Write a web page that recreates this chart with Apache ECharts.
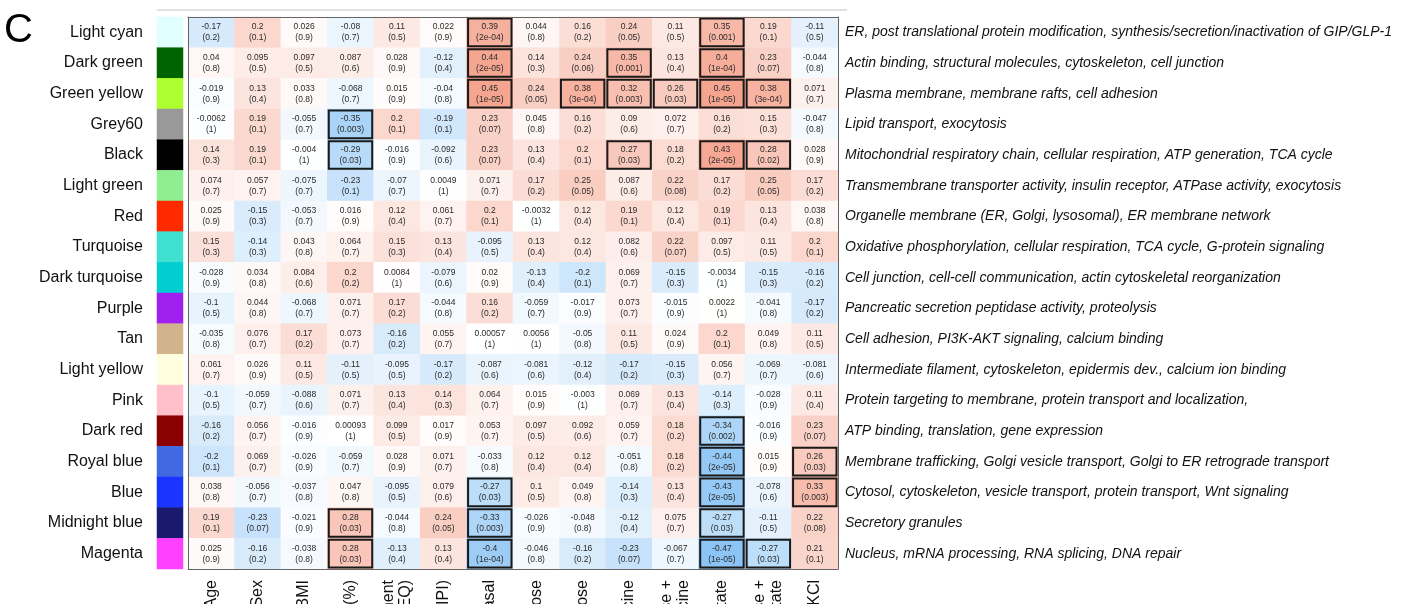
<!DOCTYPE html>
<html>
<head>
<meta charset="utf-8">
<script src="https://cdn.jsdelivr.net/npm/echarts@6/dist/echarts.min.js"></script>
<style>
  html, body { margin: 0; padding: 0; background: #fff; }
  #chart { width: 1411px; height: 604px; }
</style>
</head>
<body>
<div id="chart"></div>
<script>
// Co-expression modules (rows, top to bottom)
const modules = [
  'Light cyan', 'Dark green', 'Green yellow', 'Grey60', 'Black', 'Light green',
  'Red', 'Turquoise', 'Dark turquoise', 'Purple', 'Tan', 'Light yellow',
  'Pink', 'Dark red', 'Royal blue', 'Blue', 'Midnight blue', 'Magenta'
];

// Module colour swatches
const moduleColors = [
  '#e0ffff', '#006400', '#adff2f', '#999999', '#000000', '#90ee90',
  '#ff2a00', '#40e0d0', '#00ced1', '#a020f0', '#d2b48c', '#ffffe0',
  '#ffc0cb', '#8b0000', '#4169e1', '#1a35ff', '#191970', '#ff40ff'
];

// Functional enrichment of each module
const annotations = [
  'ER, post translational protein modification, synthesis/secretion/inactivation of GIP/GLP-1',
  'Actin binding, structural molecules, cytoskeleton, cell junction',
  'Plasma membrane, membrane rafts, cell adhesion',
  'Lipid transport, exocytosis',
  'Mitochondrial respiratory chain, cellular respiration, ATP generation, TCA cycle',
  'Transmembrane transporter activity, insulin receptor, ATPase activity, exocytosis',
  'Organelle membrane (ER, Golgi, lysosomal), ER membrane network',
  'Oxidative phosphorylation, cellular respiration, TCA cycle, G-protein signaling',
  'Cell junction, cell-cell communication, actin cytoskeletal reorganization',
  'Pancreatic secretion peptidase activity, proteolysis',
  'Cell adhesion, PI3K-AKT signaling, calcium binding',
  'Intermediate filament, cytoskeleton, epidermis dev., calcium ion binding',
  'Protein targeting to membrane, protein transport and localization,',
  'ATP binding, translation, gene expression',
  'Membrane trafficking, Golgi vesicle transport, Golgi to ER retrograde transport',
  'Cytosol, cytoskeleton, vesicle transport, protein transport, Wnt signaling',
  'Secretory granules',
  'Nucleus, mRNA processing, RNA splicing, DNA repair'
];

// Donor traits and secretion conditions (columns)
const traits = [
  'Age', 'Sex', 'BMI', 'HbA1c (%)', 'Insulin treatment\n(IU/kg EQ)', 'Islet purity (IPI)',
  'Basal', 'Low glucose', 'High glucose', 'Leucine', 'Glucose +\nLeucine',
  'Palmitate', 'Glucose +\nPalmitate', 'KCl'
];

// Correlation coefficients, one row per module
const corr = [
  [-0.17, 0.2, 0.026, -0.08, 0.11, 0.022, 0.39, 0.044, 0.16, 0.24, 0.11, 0.35, 0.19, -0.11],
  [0.04, 0.095, 0.097, 0.087, 0.028, -0.12, 0.44, 0.14, 0.24, 0.35, 0.13, 0.4, 0.23, -0.044],
  [-0.019, 0.13, 0.033, -0.068, 0.015, -0.04, 0.45, 0.24, 0.38, 0.32, 0.26, 0.45, 0.38, 0.071],
  [-0.0062, 0.19, -0.055, -0.35, 0.2, -0.19, 0.23, 0.045, 0.16, 0.09, 0.072, 0.16, 0.15, -0.047],
  [0.14, 0.19, -0.004, -0.29, -0.016, -0.092, 0.23, 0.13, 0.2, 0.27, 0.18, 0.43, 0.28, 0.028],
  [0.074, 0.057, -0.075, -0.23, -0.07, 0.0049, 0.071, 0.17, 0.25, 0.087, 0.22, 0.17, 0.25, 0.17],
  [0.025, -0.15, -0.053, 0.016, 0.12, 0.061, 0.2, -0.0032, 0.12, 0.19, 0.12, 0.19, 0.13, 0.038],
  [0.15, -0.14, 0.043, 0.064, 0.15, 0.13, -0.095, 0.13, 0.12, 0.082, 0.22, 0.097, 0.11, 0.2],
  [-0.028, 0.034, 0.084, 0.2, 0.0084, -0.079, 0.02, -0.13, -0.2, 0.069, -0.15, -0.0034, -0.15, -0.16],
  [-0.1, 0.044, -0.068, 0.071, 0.17, -0.044, 0.16, -0.059, -0.017, 0.073, -0.015, 0.0022, -0.041, -0.17],
  [-0.035, 0.076, 0.17, 0.073, -0.16, 0.055, 0.00057, 0.0056, -0.05, 0.11, 0.024, 0.2, 0.049, 0.11],
  [0.061, 0.026, 0.11, -0.11, -0.095, -0.17, -0.087, -0.081, -0.12, -0.17, -0.15, 0.056, -0.069, -0.081],
  [-0.1, -0.059, -0.088, 0.071, 0.13, 0.14, 0.064, 0.015, -0.003, 0.069, 0.13, -0.14, -0.028, 0.11],
  [-0.16, 0.056, -0.016, 0.00093, 0.099, 0.017, 0.053, 0.097, 0.092, 0.059, 0.18, -0.34, -0.016, 0.23],
  [-0.2, 0.069, -0.026, -0.059, 0.028, 0.071, -0.033, 0.12, 0.12, -0.051, 0.18, -0.44, 0.015, 0.26],
  [0.038, -0.056, -0.037, 0.047, -0.095, 0.079, -0.27, 0.1, 0.049, -0.14, 0.13, -0.43, -0.078, 0.33],
  [0.19, -0.23, -0.021, 0.28, -0.044, 0.24, -0.33, -0.026, -0.048, -0.12, 0.075, -0.27, -0.11, 0.22],
  [0.025, -0.16, -0.038, 0.28, -0.13, 0.13, -0.4, -0.046, -0.16, -0.23, -0.067, -0.47, -0.27, 0.21]
];

// P-values, as printed under each coefficient
const pvals = [
  ['0.2', '0.1', '0.9', '0.7', '0.5', '0.9', '2e-04', '0.8', '0.2', '0.05', '0.5', '0.001', '0.1', '0.5'],
  ['0.8', '0.5', '0.5', '0.6', '0.9', '0.4', '2e-05', '0.3', '0.06', '0.001', '0.4', '1e-04', '0.07', '0.8'],
  ['0.9', '0.4', '0.8', '0.7', '0.9', '0.8', '1e-05', '0.05', '3e-04', '0.003', '0.03', '1e-05', '3e-04', '0.7'],
  ['1', '0.1', '0.7', '0.003', '0.1', '0.1', '0.07', '0.8', '0.2', '0.6', '0.7', '0.2', '0.3', '0.8'],
  ['0.3', '0.1', '1', '0.03', '0.9', '0.6', '0.07', '0.4', '0.1', '0.03', '0.2', '2e-05', '0.02', '0.9'],
  ['0.7', '0.7', '0.7', '0.1', '0.7', '1', '0.7', '0.2', '0.05', '0.6', '0.08', '0.2', '0.05', '0.2'],
  ['0.9', '0.3', '0.7', '0.9', '0.4', '0.7', '0.1', '1', '0.4', '0.1', '0.4', '0.1', '0.4', '0.8'],
  ['0.3', '0.3', '0.8', '0.7', '0.3', '0.4', '0.5', '0.4', '0.4', '0.6', '0.07', '0.5', '0.5', '0.1'],
  ['0.9', '0.8', '0.6', '0.2', '1', '0.6', '0.9', '0.4', '0.1', '0.7', '0.3', '1', '0.3', '0.2'],
  ['0.5', '0.8', '0.7', '0.7', '0.2', '0.8', '0.2', '0.7', '0.9', '0.7', '0.9', '1', '0.8', '0.2'],
  ['0.8', '0.7', '0.2', '0.7', '0.2', '0.7', '1', '1', '0.8', '0.5', '0.9', '0.1', '0.8', '0.5'],
  ['0.7', '0.9', '0.5', '0.5', '0.5', '0.2', '0.6', '0.6', '0.4', '0.2', '0.3', '0.7', '0.7', '0.6'],
  ['0.5', '0.7', '0.6', '0.7', '0.4', '0.3', '0.7', '0.9', '1', '0.7', '0.4', '0.3', '0.9', '0.4'],
  ['0.2', '0.7', '0.9', '1', '0.5', '0.9', '0.7', '0.5', '0.6', '0.7', '0.2', '0.002', '0.9', '0.07'],
  ['0.1', '0.7', '0.9', '0.7', '0.9', '0.7', '0.8', '0.4', '0.4', '0.8', '0.2', '2e-05', '0.9', '0.03'],
  ['0.8', '0.7', '0.8', '0.8', '0.5', '0.6', '0.03', '0.5', '0.8', '0.3', '0.4', '2e-05', '0.6', '0.003'],
  ['0.1', '0.07', '0.9', '0.03', '0.8', '0.05', '0.003', '0.9', '0.8', '0.4', '0.7', '0.03', '0.5', '0.08'],
  ['0.9', '0.2', '0.8', '0.03', '0.4', '0.4', '1e-04', '0.8', '0.2', '0.07', '0.7', '1e-05', '0.03', '0.1']
];

const FONT = '"Liberation Sans", Arial, Helvetica, sans-serif';

// Heatmap cells: [column, row, r]
const cells = [];
const significant = [];
corr.forEach((row, r) => {
  row.forEach((v, c) => {
    cells.push([c, r, v]);
    if (parseFloat(pvals[r][c]) < 0.05) significant.push([c, r]);
  });
});

const swatches = moduleColors.map((col, i) => ({ value: [0, i, i], itemStyle: { color: col } }));

const chart = echarts.init(document.getElementById('chart'), null, { renderer: 'canvas' });

chart.setOption({
  animation: false,
  backgroundColor: '#ffffff',
  textStyle: { fontFamily: FONT },
  graphic: [
    { type: 'text', left: 4, top: 11, style: { text: 'C', font: '40px ' + FONT, fill: '#000' } },
    { type: 'line', shape: { x1: 157, y1: 10, x2: 847, y2: 10 }, style: { stroke: '#c4c4c4', lineWidth: 1 } }
  ],
  grid: [
    { left: 188, top: 17, width: 650, height: 552, outerBoundsMode: 'none', containLabel: false },
    { left: 157, top: 17, width: 26, height: 552, outerBoundsMode: 'none', containLabel: false }
  ],
  xAxis: [
    {
      type: 'category', gridIndex: 0, data: traits, position: 'bottom', z: 5,
      axisLine: { show: true, lineStyle: { color: '#666', width: 1 } },
      axisTick: { show: false }, splitLine: { show: false },
      axisLabel: { rotate: 90, fontSize: 16, color: '#111', margin: 11, lineHeight: 17, interval: 0, fontFamily: FONT }
    },
    {
      type: 'category', gridIndex: 0, data: traits, position: 'top', z: 5,
      axisLine: { show: true, lineStyle: { color: '#666', width: 1 } },
      axisTick: { show: false }, axisLabel: { show: false }
    },
    {
      type: 'category', gridIndex: 1, data: ['module'],
      axisLine: { show: false }, axisTick: { show: false }, axisLabel: { show: false }
    }
  ],
  yAxis: [
    {
      type: 'category', gridIndex: 0, data: modules, inverse: true, position: 'left', z: 5,
      axisLine: { show: true, lineStyle: { color: '#666', width: 1 } },
      axisTick: { show: false }, axisLabel: { show: false }
    },
    {
      type: 'category', gridIndex: 0, data: annotations, inverse: true, position: 'right', z: 5,
      axisLine: { show: true, lineStyle: { color: '#666', width: 1 } },
      axisTick: { show: false },
      axisLabel: { fontSize: 14, fontStyle: 'italic', color: '#111', margin: 7, interval: 0, fontFamily: FONT }
    },
    {
      type: 'category', gridIndex: 1, data: modules, inverse: true,
      axisLine: { show: false }, axisTick: { show: false },
      axisLabel: { fontSize: 16, color: '#111', margin: 14, interval: 0, fontFamily: FONT }
    }
  ],
  visualMap: {
    type: 'continuous', show: false, seriesIndex: 0, dimension: 2,
    min: -0.5, max: 0.5,
    inRange: { color: ['#85c1f4', '#ffffff', '#f49a82'] }
  },
  series: [
    {
      name: 'correlation', type: 'heatmap', xAxisIndex: 0, yAxisIndex: 0,
      data: cells,
      label: {
        show: true, fontSize: 8.5, lineHeight: 11, color: '#2a2a2a', fontFamily: FONT,
        formatter: p => p.value[2] + '\n(' + pvals[p.value[1]][p.value[0]] + ')'
      },
      emphasis: { disabled: true }
    },
    {
      name: 'p < 0.05', type: 'custom', xAxisIndex: 0, yAxisIndex: 0, z: 4,
      data: significant,
      renderItem: (params, api) => {
        const c = api.coord([api.value(0), api.value(1)]);
        const s = api.size([1, 1]);
        return {
          type: 'rect',
          shape: { x: c[0] - s[0] / 2 + 1.5, y: c[1] - s[1] / 2 + 1.5, width: s[0] - 3, height: s[1] - 3 },
          style: { fill: 'none', stroke: '#1a1a1a', lineWidth: 2 }
        };
      },
      silent: true
    },
    {
      name: 'module colour', type: 'heatmap', xAxisIndex: 2, yAxisIndex: 2,
      data: swatches, label: { show: false }, emphasis: { disabled: true }
    }
  ]
});
</script>
</body>
</html>
